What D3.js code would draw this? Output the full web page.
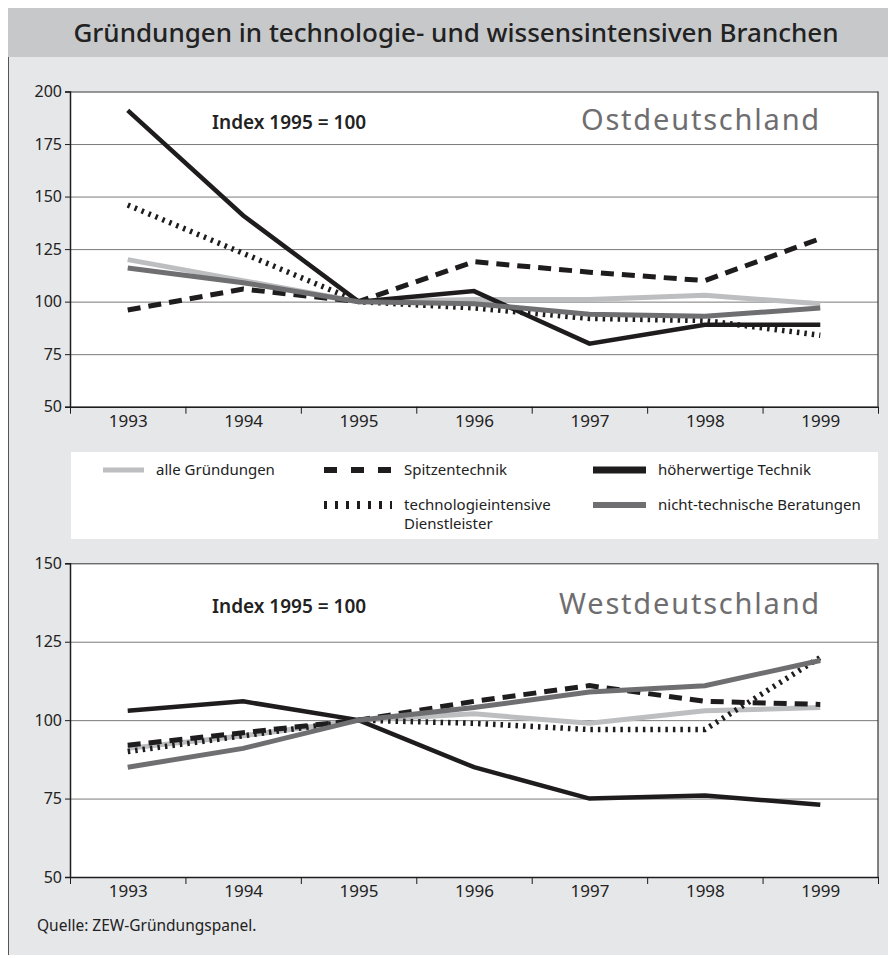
<!DOCTYPE html>
<html>
<head>
<meta charset="utf-8">
<script src="https://cdn.jsdelivr.net/npm/d3@7"></script>
<style>
  body { margin: 0; background: #fff; }
  svg text { font-family: "Noto Sans", sans-serif; fill: #222; }
</style>
</head>
<body>
<div id="chart"></div>
<script>
// data
var years = [1993, 1994, 1995, 1996, 1997, 1998, 1999];

var ostAlle     = [120, 110, 100, 101, 101, 103, 99];
var ostSpitzen  = [96, 106, 100, 119, 114, 110, 130];
var ostHoeher   = [191, 141, 100, 105, 80, 89, 89];
var ostDienst   = [146, 123, 100, 97, 92, 91, 84];
var ostBeratung = [116, 109, 100, 99, 94, 93, 97];

var westAlle     = [91, 95, 100, 102, 99, 103, 104];
var westSpitzen  = [92, 96, 100, 106, 111, 106, 105];
var westHoeher   = [103, 106, 100, 85, 75, 76, 73];
var westDienst   = [90, 95, 100, 99, 97, 97, 120];
var westBeratung = [85, 91, 100, 104, 109, 111, 119];

var ostTicks  = [50, 75, 100, 125, 150, 175, 200];
var westTicks = [50, 75, 100, 125, 150];

var W = 888, H = 959;
var svg = d3.select("#chart").append("svg")
    .attr("width", W).attr("height", H);

// styles per series
var styles = {
  "alle Gründungen":                   {color: "#bdbec0", width: 5, dash: null},
  "Spitzentechnik":                    {color: "#1e1c1d", width: 5, dash: "13,8"},
  "höherwertige Technik":              {color: "#1e1c1d", width: 4.5, dash: null},
  "technologieintensive Dienstleister":{color: "#1e1c1d", width: 5.5, dash: "2.5,5"},
  "nicht-technische Beratungen":       {color: "#6f6f72", width: 5, dash: null}
};
var drawOrder = ["alle Gründungen", "technologieintensive Dienstleister", "Spitzentechnik",
                 "höherwertige Technik", "nicht-technische Beratungen"];

// frame
svg.append("rect").attr("x", 8).attr("y", 8).attr("width", W - 8).attr("height", 49)
    .attr("fill", "#c7c8ca");
svg.append("rect").attr("x", 8).attr("y", 57).attr("width", W - 8).attr("height", 898)
    .attr("fill", "#e6e7e9");
svg.append("line").attr("x1", 8.5).attr("x2", 8.5).attr("y1", 57).attr("y2", 955)
    .attr("stroke", "#555").attr("stroke-width", 1);

svg.append("text").attr("x", 456).attr("y", 42)
    .attr("text-anchor", "middle")
    .style("font-size", "26px").style("font-weight", "500")
    .text("Gründungen in technologie- und wissensintensiven Branchen");

var left = 70, right = 878;
var x = d3.scaleLinear().domain([1992.5, 1999.5]).range([left, right]);

function panel(top, bottom, yMax, ticks, data, region, regionY, indexY) {
  var y = d3.scaleLinear().domain([50, yMax]).range([bottom, top]);
  var g = svg.append("g");

  g.append("rect").attr("x", left).attr("y", top)
      .attr("width", right - left).attr("height", bottom - top)
      .attr("fill", "#fff");

  // gridlines
  g.append("g").attr("transform", "translate(" + left + ",0)")
      .call(d3.axisLeft(y).tickValues(ticks).tickSize(-(right - left)).tickFormat(""))
      .call(function (s) {
        s.select(".domain").remove();
        s.selectAll("line").attr("stroke", "#7a7a7a").attr("stroke-width", 1);
        s.selectAll(".tick").filter(function (d) { return d === yMax; })
            .select("line").attr("stroke", "#333");
      });

  // right border
  g.append("line").attr("x1", right).attr("x2", right).attr("y1", top).attr("y2", bottom)
      .attr("stroke", "#333").attr("stroke-width", 1.2);

  // lines
  var line = d3.line()
      .x(function (d, i) { return x(years[i]); })
      .y(function (d) { return y(d); });
  drawOrder.forEach(function (name) {
    var st = styles[name];
    g.append("path").datum(data[name])
        .attr("d", line)
        .attr("fill", "none")
        .attr("stroke", st.color)
        .attr("stroke-width", st.width)
        .attr("stroke-dasharray", st.dash);
  });

  // y axis
  g.append("g").attr("transform", "translate(" + left + ",0)")
      .call(d3.axisLeft(y).tickValues(ticks).tickSize(5).tickPadding(3))
      .call(function (s) {
        s.select(".domain").attr("stroke", "#1e1c1d").attr("stroke-width", 1.5);
        s.selectAll("line").attr("stroke", "#1e1c1d");
        s.selectAll("text").style("font-size", "16px").style("font-family", "Noto Sans")
            .attr("fill", "#222");
      });

  // x axis: ticks at band edges, labels at centers
  var edges = d3.range(1992.5, 2000, 1);
  g.append("g").attr("transform", "translate(0," + bottom + ")")
      .call(d3.axisBottom(x).tickValues(edges).tickSize(7).tickFormat("").tickSizeOuter(0))
      .call(function (s) {
        s.select(".domain").attr("stroke", "#1e1c1d").attr("stroke-width", 1.5);
        s.selectAll("line").attr("stroke", "#1e1c1d");
      });
  g.append("g").attr("transform", "translate(0," + bottom + ")")
      .call(d3.axisBottom(x).tickValues(years).tickSize(0).tickPadding(8)
            .tickFormat(d3.format("d")))
      .call(function (s) {
        s.select(".domain").remove();
        s.selectAll("text").style("font-size", "17px").style("font-family", "Noto Sans")
            .attr("fill", "#222");
      });

  g.append("text").attr("x", 212).attr("y", indexY)
      .style("font-size", "19px").style("font-weight", "600")
      .text("Index 1995 = 100");

  g.append("text").attr("x", 821).attr("y", regionY)
      .attr("text-anchor", "end")
      .style("font-size", "29px").style("letter-spacing", "1.8px")
      .style("fill", "#6e6e70")
      .text(region);
}

panel(91.5, 406.7, 200, ostTicks, {
  "alle Gründungen": ostAlle,
  "Spitzentechnik": ostSpitzen,
  "höherwertige Technik": ostHoeher,
  "technologieintensive Dienstleister": ostDienst,
  "nicht-technische Beratungen": ostBeratung
}, "Ostdeutschland", 130, 129);

panel(563.3, 877, 150, westTicks, {
  "alle Gründungen": westAlle,
  "Spitzentechnik": westSpitzen,
  "höherwertige Technik": westHoeher,
  "technologieintensive Dienstleister": westDienst,
  "nicht-technische Beratungen": westBeratung
}, "Westdeutschland", 614, 613);

// legend
var lg = svg.append("g");
lg.append("rect").attr("x", 71).attr("y", 452).attr("width", right - 71).attr("height", 87)
    .attr("fill", "#fff");

var legendItems = [
  {name: "alle Gründungen", x: 103, y: 470, len: 41, lines: ["alle Gründungen"], sw: 5, dash: null},
  {name: "Spitzentechnik", x: 324, y: 470, len: 68, lines: ["Spitzentechnik"], sw: 6, dash: "13,14"},
  {name: "höherwertige Technik", x: 593, y: 470, len: 53, lines: ["höherwertige Technik"], sw: 7, dash: null},
  {name: "technologieintensive Dienstleister", x: 324, y: 505, len: 68,
   lines: ["technologieintensive", "Dienstleister"], sw: 8, dash: "3,8"},
  {name: "nicht-technische Beratungen", x: 593, y: 505, len: 53, lines: ["nicht-technische Beratungen"], sw: 6, dash: null}
];
legendItems.forEach(function (it) {
  lg.append("line").attr("x1", it.x).attr("x2", it.x + it.len)
      .attr("y1", it.y).attr("y2", it.y)
      .attr("stroke", styles[it.name].color)
      .attr("stroke-width", it.sw)
      .attr("stroke-dasharray", it.dash);
  var t = lg.append("text").attr("x", it.x + it.len + 12).attr("y", it.y + 5)
      .style("font-size", "15px");
  it.lines.forEach(function (l, i) {
    t.append("tspan").attr("x", it.x + it.len + 12).attr("dy", i === 0 ? 0 : 19).text(l);
  });
});

svg.append("text").attr("x", 37).attr("y", 931)
    .style("font-size", "15.5px")
    .text("Quelle: ZEW-Gründungspanel.");
</script>
</body>
</html>
